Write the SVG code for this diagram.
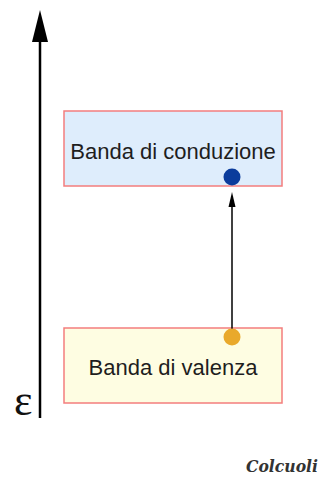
<svg xmlns="http://www.w3.org/2000/svg" width="328" height="478" viewBox="0 0 328 478">
<style>
.band{stroke:#f37d7d;stroke-width:1.5}
.lbl{font-family:"Liberation Sans",Arial,sans-serif;font-size:22px;fill:#1e1e1e;text-anchor:middle}
.head{fill:#000}
</style>
<rect width="328" height="478" fill="#fff"/>
<g id="axis">
<line x1="40" y1="418" x2="40" y2="42" stroke="#000" stroke-width="2.5"/>
<path class="head" d="M40 10 L48 42 L32 42 Z"/>
<text x="14" y="415" font-family="'Liberation Serif','Times New Roman',serif" font-size="44" fill="#111">ε</text>
</g>
<g id="conduzione">
<rect class="band" x="64" y="111" width="218" height="75" fill="#deedfc"/>
<text class="lbl" x="173" y="159">Banda di conduzione</text>
</g>
<g id="valenza">
<rect class="band" x="64" y="328" width="218" height="75" fill="#fefde2"/>
<text class="lbl" x="173" y="375">Banda di valenza</text>
</g>
<g id="connectors">
<line x1="232" y1="337" x2="232" y2="205" stroke="#000" stroke-width="1.5"/>
<path class="head" d="M232 192 L235.5 207 L228.5 207 Z"/>
</g>
<g id="elettrone">
<circle cx="232" cy="177" r="8.5" fill="#0b3c9c"/>
</g>
<g id="lacuna">
<circle cx="232" cy="337" r="8.5" fill="#e9a92b"/>
</g>
<text x="246" y="472" font-family="'DejaVu Serif',serif" font-style="italic" font-weight="bold" font-size="17" fill="#333" textLength="72" lengthAdjust="spacingAndGlyphs">Colcuoli</text>
</svg>
